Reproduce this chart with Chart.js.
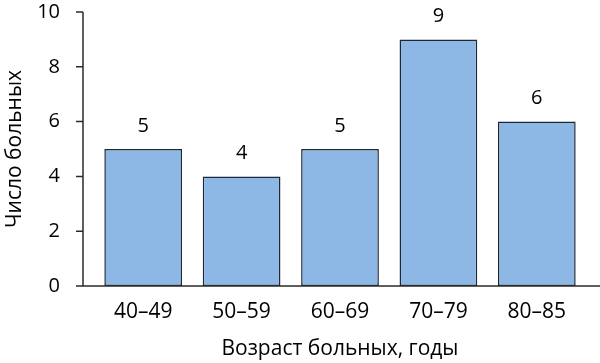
<!DOCTYPE html>
<html>
<head>
<meta charset="utf-8">
<script src="https://cdn.jsdelivr.net/npm/chart.js@4/dist/chart.umd.min.js"></script>
<style>
  html, body { margin: 0; padding: 0; background: #fff; }
  #wrap { width: 600px; height: 363px; position: relative; }
</style>
</head>
<body>
<div id="wrap"><canvas id="chart"></canvas></div>
<script>
const categories = ['40–49', '50–59', '60–69', '70–79', '80–85'];
const patients = [5, 4, 5, 9, 6];
const yTicks = [0, 2, 4, 6, 8, 10];

const fontFamily = '"Open Sans", "Noto Sans", sans-serif';
const axisColor = '#2b2b2b';

// axes are drawn by hand: the y line sits left of the first category gap
const axisLines = {
    id: 'axisLines',
    afterDraw(chart) {
        const { ctx, chartArea, scales } = chart;
        const axisX = chartArea.left - 11;
        ctx.save();
        ctx.strokeStyle = axisColor;
        ctx.lineWidth = 1.5;
        ctx.beginPath();
        ctx.moveTo(axisX, scales.y.getPixelForValue(10));
        ctx.lineTo(axisX, scales.y.getPixelForValue(0));
        yTicks.forEach(v => {
            const y = scales.y.getPixelForValue(v);
            ctx.moveTo(axisX - 7, y);
            ctx.lineTo(axisX, y);
        });
        const y0 = scales.y.getPixelForValue(0);
        ctx.moveTo(axisX - 7, y0);
        ctx.lineTo(chart.width, y0);
        ctx.stroke();
        ctx.restore();
    }
};

const barLabels = {
    id: 'barLabels',
    afterDatasetsDraw(chart) {
        const { ctx } = chart;
        const meta = chart.getDatasetMeta(0);
        ctx.save();
        ctx.fillStyle = '#000';
        ctx.font = '20px ' + fontFamily;
        ctx.textAlign = 'center';
        ctx.textBaseline = 'middle';
        meta.data.forEach((bar, i) => {
            ctx.fillText(patients[i], bar.x, bar.y - 23);
        });
        ctx.restore();
    }
};

new Chart(document.getElementById('chart'), {
    type: 'bar',
    data: {
        labels: categories,
        datasets: [{
            data: patients,
            backgroundColor: '#8db8e6',
            borderColor: '#1c2836',
            borderWidth: 1.5,
            borderSkipped: false,
            barPercentage: 0.79,
            categoryPercentage: 1
        }]
    },
    options: {
        responsive: true,
        maintainAspectRatio: false,
        animation: false,
        layout: { padding: { top: 12, right: 14, left: 0, bottom: 0 } },
        plugins: {
            legend: { display: false },
            tooltip: { enabled: false }
        },
        scales: {
            x: {
                offset: true,
                border: { display: false },
                grid: { display: false },
                ticks: { color: '#000', font: { family: fontFamily, size: 21 }, padding: 5 },
                title: {
                    display: true,
                    text: 'Возраст больных, годы',
                    color: '#000',
                    font: { family: fontFamily, size: 21 },
                    padding: { top: 1, bottom: 1 }
                },
                afterFit(scale) {
                    scale.height = 77;
                    scale.paddingLeft = 0;
                    scale.paddingRight = 0;
                }
            },
            y: {
                min: 0,
                max: 10,
                border: { display: false },
                grid: { display: false },
                ticks: {
                    stepSize: 2,
                    color: '#000',
                    font: { family: fontFamily, size: 20 },
                    padding: 26
                },
                title: {
                    display: true,
                    text: 'Число больных',
                    color: '#000',
                    font: { family: fontFamily, size: 21 },
                    padding: { top: 2, bottom: 2 }
                },
                afterFit(scale) {
                    scale.width = 94;
                    scale.paddingTop = 0;
                    scale.paddingBottom = 0;
                }
            }
        }
    },
    plugins: [axisLines, barLabels]
});
</script>
</body>
</html>
